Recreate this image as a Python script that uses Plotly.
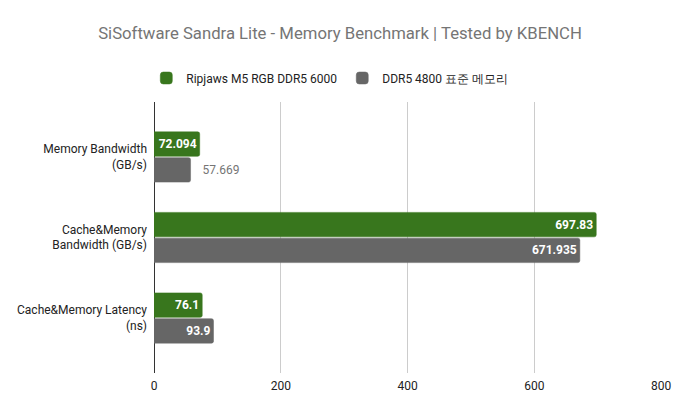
import plotly.graph_objects as go

categories = ["Memory Bandwidth<br>(GB/s)", "Cache&Memory<br>Bandwidth (GB/s)", "Cache&Memory Latency<br>(ns)"]
series_names = ["Ripjaws M5 RGB DDR5 6000", "DDR5 4800 표준 메모리"]
ripjaws = [72.094, 697.83, 76.1]
ddr5_std = [57.669, 671.935, 93.9]
ripjaws_labels = ["72.094", "697.83", "76.1"]
ddr5_labels = ["57.669", "671.935", "93.9"]
x_ticks = [0, 200, 400, 600, 800]

GREEN = "#38761d"
GREY = "#666666"
FONT = "Roboto"

fig = go.Figure()

fig.add_trace(go.Bar(
    y=categories, x=ripjaws, name=series_names[0], orientation="h",
    marker=dict(color=GREEN, line=dict(color=GREEN, width=0.5), cornerradius=2),
    text=["<b>%s</b>" % t for t in ripjaws_labels],
    textposition="inside", insidetextanchor="end",
    textfont=dict(color="white", size=12, family=FONT),
    cliponaxis=False,
))

ddr_pos = ["outside", "inside", "inside"]
ddr_text = []
ddr_colors = []
for t, p in zip(ddr5_labels, ddr_pos):
    if p == "outside":
        ddr_text.append("\u00a0\u00a0\u00a0" + t)
        ddr_colors.append("#757575")
    else:
        ddr_text.append("<b>%s</b>" % t)
        ddr_colors.append("white")

fig.add_trace(go.Bar(
    y=categories, x=ddr5_std, name=series_names[1], orientation="h",
    marker=dict(color=GREY, line=dict(color=GREY, width=0.5), cornerradius=2),
    text=ddr_text, textposition=ddr_pos, insidetextanchor="end",
    textfont=dict(color=ddr_colors, size=12, family=FONT),
    outsidetextfont=dict(color="#757575", size=12, family=FONT),
    cliponaxis=False,
))

fig.update_layout(
    width=680, height=410,
    margin=dict(l=154, r=19, t=102, b=37, autoexpand=False),
    paper_bgcolor="white", plot_bgcolor="white",
    font=dict(family=FONT, size=12, color="#222222"),
    title=dict(text="SiSoftware Sandra Lite - Memory Benchmark | Tested by KBENCH",
               x=0.5, xanchor="center", xref="container",
               y=1 - 33 / 410, yanchor="middle", yref="container",
               font=dict(family=FONT, size=16.7, color="#757575")),
    legend=dict(orientation="h", x=0.485, xanchor="center", xref="container",
                y=1 - 78 / 410, yanchor="middle", yref="container",
                font=dict(family=FONT, size=12, color="#222222"),
                itemwidth=30, traceorder="normal"),
    barmode="group", bargap=0.36, bargroupgap=0.05,
    xaxis=dict(range=[0, 800], tickvals=x_ticks, showgrid=True, gridcolor="#cccccc",
               gridwidth=1, zeroline=True, zerolinecolor="#333333", zerolinewidth=1,
               showline=False, ticks="", automargin=False, ticklabelstandoff=4,
               tickfont=dict(size=12, color="#222222")),
    yaxis=dict(range=[2.683, -0.683], showgrid=False, zeroline=False, showline=False,
               ticks="", ticklabelstandoff=6, automargin=False,
               tickfont=dict(size=12, color="#222222")),
)

fig.write_html("out.html", config={"displayModeBar": False},
               post_script="document.body.style.margin='0';")
